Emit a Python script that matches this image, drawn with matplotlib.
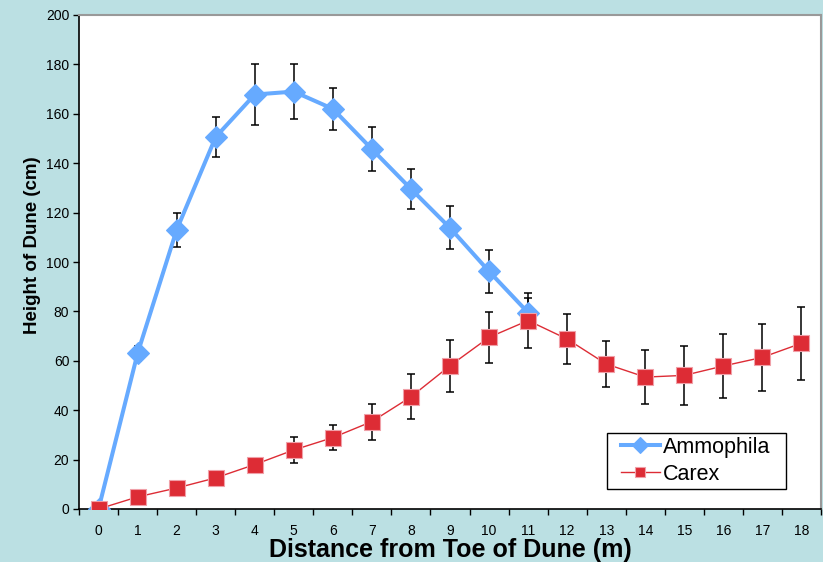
import matplotlib
matplotlib.use("Agg")
import matplotlib.pyplot as plt
from matplotlib.patches import Rectangle
import numpy as np

distance = list(range(0, 19))
tick_labels = [str(d) for d in distance]

amm_x = list(range(0, 12))
amm_y = [0, 63, 113, 150.6, 167.8, 169, 162, 145.7, 129.6, 113.8, 96.2, 79.5]
amm_err = [0, 3, 7, 8.2, 12.5, 11.3, 8.6, 9, 8.2, 8.7, 8.7, 6]

carex_x = list(range(0, 19))
carex_y = [0, 4.9, 8.5, 12.6, 18, 23.9, 28.9, 35.4, 45.4, 58, 69.5, 76.3,
           68.8, 58.7, 53.4, 54.1, 57.9, 61.4, 67.1]
carex_err = [0, 1, 1.5, 1.5, 2, 5.2, 5.2, 7.3, 9.1, 10.5, 10.2, 11.2,
             10.2, 9.3, 11, 11.9, 13.1, 13.5, 14.8]

bg = "#bbe0e3"
blue = "#66aaff"
red = "#dd2c35"

W, H = 823, 562
L, R, T, B = 79, 821, 15, 509
fig = plt.figure(figsize=(W/100, H/100), dpi=100)
fig.patch.set_facecolor(bg)
ax = fig.add_axes([L/W, 1-B/H, (R-L)/W, (B-T)/H])
ax.set_facecolor("white")

def ax_frac(px, py):
    return ((px - L) / (R - L), (B - py) / (B - T))

# error bars (behind markers)
ax.errorbar(amm_x, amm_y, yerr=amm_err, fmt="none", ecolor="black",
            elinewidth=1.1, capsize=3, capthick=1.1, zorder=2)
ax.errorbar(carex_x, carex_y, yerr=carex_err, fmt="none", ecolor="black",
            elinewidth=1.1, capsize=3, capthick=1.1, zorder=2)

ax.plot(amm_x, amm_y, color=blue, lw=2.9, marker="D", markersize=11.5,
        markerfacecolor=blue, markeredgecolor=blue, markeredgewidth=0.8,
        label="Ammophila", zorder=3)
ax.plot(carex_x, carex_y, color=red, lw=1.0, marker="s", markersize=11,
        markerfacecolor=red, markeredgecolor="#f0a0a8", markeredgewidth=0.8,
        label="Carex", zorder=4)

ax.set_xlim(-0.5, 18.5)
ax.set_ylim(0, 200)
ax.set_yticks(np.arange(0, 201, 20))
ax.set_xticks(distance)
ax.set_xticklabels(tick_labels)
ax.set_xticks(np.arange(-0.5, 18.6, 1), minor=True)
ax.tick_params(axis="x", which="major", length=0, pad=11, labelsize=10)
ax.tick_params(axis="x", which="minor", length=4, width=1, color="black", direction="out")
ax.tick_params(axis="y", which="major", length=4, width=1, color="black",
               direction="out", labelsize=10, pad=3)
for lbl in ax.get_xticklabels() + ax.get_yticklabels():
    lbl.set_fontfamily("Liberation Sans")

for s in ["top", "right"]:
    ax.spines[s].set_color("#999999")
    ax.spines[s].set_linewidth(1.5)
for s in ["left", "bottom"]:
    ax.spines[s].set_color("black")
    ax.spines[s].set_linewidth(1.2)

ax.set_xlabel("Distance from Toe of Dune (m)", fontsize=18, fontweight="bold",
              family="Liberation Sans", labelpad=0)
ax.set_ylabel("Height of Dune (cm)", fontsize=13.5, fontweight="bold",
              family="Liberation Sans")
ax.yaxis.set_label_coords(*ax_frac(41, 245))

# legend frame
x0, y0 = ax_frac(607, 489)
x1, y1 = ax_frac(786, 433)
ax.add_patch(Rectangle((x0, y0), x1 - x0, y1 - y0, transform=ax.transAxes,
                       facecolor="white", edgecolor="black", lw=1.0, zorder=5))
leg = ax.legend(loc="center left", bbox_to_anchor=ax_frac(621, 461),
                frameon=False, prop={"family": "Liberation Sans", "size": 15.5},
                handlelength=1.8, borderpad=0, labelspacing=0.24,
                handletextpad=0.15, borderaxespad=0, markerscale=0.7,
                handleheight=0.9)
leg.set_zorder(6)

fig.savefig("out.png", dpi=100, facecolor=bg)
